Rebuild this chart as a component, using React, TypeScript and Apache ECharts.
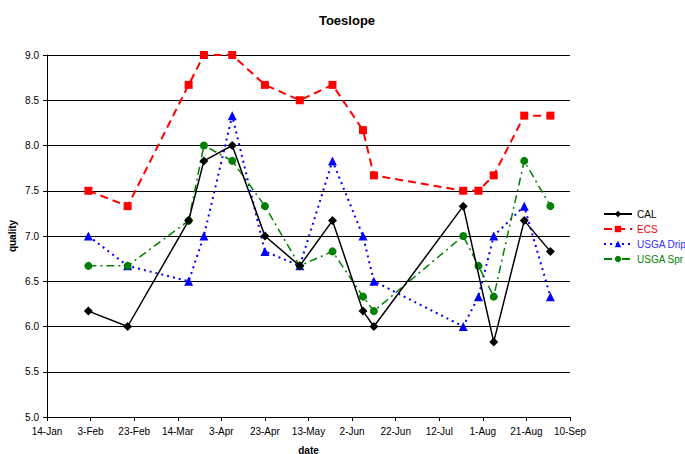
import React, { useEffect, useRef } from "react";
import * as echarts from "echarts";

// Sampling dates (2004 season) and mean quality ratings per treatment
const sampleDates = [
  "2004-02-02", "2004-02-20", "2004-03-19", "2004-03-26", "2004-04-08",
  "2004-04-23", "2004-05-09", "2004-05-24", "2004-06-07", "2004-06-12",
  "2004-07-23", "2004-07-30", "2004-08-06", "2004-08-20", "2004-09-01",
];
const calValues = [6.17, 6.0, 7.17, 7.83, 8.0, 7.0, 6.67, 7.17, 6.17, 6.0, 7.33, 5.83, 7.17, 6.83];
const calDates = [
  "2004-02-02", "2004-02-20", "2004-03-19", "2004-03-26", "2004-04-08",
  "2004-04-23", "2004-05-09", "2004-05-24", "2004-06-07", "2004-06-12",
  "2004-07-23", "2004-08-06", "2004-08-20", "2004-09-01",
];
const ecsValues = [7.5, 7.33, 8.67, 9.0, 9.0, 8.67, 8.5, 8.67, 8.17, 7.67, 7.5, 7.5, 7.67, 8.33, 8.33];
const dripValues = [7.0, 6.67, 6.5, 7.0, 8.33, 6.83, 6.67, 7.83, 7.0, 6.5, 6.0, 6.33, 7.0, 7.33, 6.33];
const sprValues = [6.67, 6.67, 7.17, 8.0, 7.83, 7.33, 6.67, 6.83, 6.33, 6.17, 7.0, 6.67, 6.33, 7.83, 7.33];

const axisStart = "2004-01-14";
const axisDays = 240;
const tickStep = 20;
const monthNames = ["Jan", "Feb", "Mar", "Apr", "May", "Jun", "Jul", "Aug", "Sep", "Oct", "Nov", "Dec"];

const DAY = 86400000;
const startMs = Date.parse(axisStart + "T00:00:00Z");
const toDay = (d: string) => Math.round((Date.parse(d + "T00:00:00Z") - startMs) / DAY);
const dayLabel = (v: number) => {
  const dt = new Date(startMs + v * DAY);
  return dt.getUTCDate() + "-" + monthNames[dt.getUTCMonth()];
};
const pairs = (dates: string[], vals: number[]) => vals.map((v, i) => [toDay(dates[i]), v]);

const FONT = "'Liberation Sans', Arial, sans-serif";

export default function App() {
  const ref = useRef<HTMLDivElement>(null);
  useEffect(() => {
    if (!ref.current) return;
    document.body.style.margin = "0";
    const chart = echarts.init(ref.current, undefined, { renderer: "svg" });
    chart.setOption({
      animation: false,
      backgroundColor: "#ffffff",
      textStyle: { fontFamily: FONT },
      title: {
        text: "Toeslope",
        left: 342,
        top: 9,
        textAlign: "center",
        textStyle: { fontSize: 13, fontWeight: "bold", color: "#000", fontFamily: FONT },
      },
      legend: {
        orient: "vertical",
        left: 598,
        top: 204,
        width: 90,
        itemWidth: 28,
        itemHeight: 8,
        itemGap: 5,
        textStyle: { fontSize: 10, fontFamily: FONT, overflow: "none" },
        data: [
          { name: "CAL", textStyle: { color: "#000000" } },
          { name: "ECS", textStyle: { color: "#ff0000" } },
          { name: "USGA Drip", textStyle: { color: "#3333ff" } },
          { name: "USGA Spr", textStyle: { color: "#008000" } },
        ],
      },
      grid: { left: 47, right: 115, top: 55, bottom: 37, containLabel: false, outerBoundsMode: "none" },
      xAxis: {
        type: "value",
        min: 0,
        max: axisDays,
        interval: tickStep,
        name: "date",
        nameLocation: "middle",
        nameGap: 28,
        nameMoveOverlap: false,
        nameTextStyle: { fontSize: 10, fontWeight: "bold", color: "#000", fontFamily: FONT },
        axisLine: { lineStyle: { color: "#000", width: 1 } },
        axisTick: { show: true, length: 4, lineStyle: { color: "#000" } },
        axisLabel: { fontSize: 10, color: "#000", margin: 9, formatter: (v: number) => dayLabel(v), fontFamily: FONT },
        splitLine: { show: false },
      },
      yAxis: {
        type: "value",
        min: 5,
        max: 9,
        interval: 0.5,
        name: "quality",
        nameLocation: "middle",
        nameGap: 30,
        nameMoveOverlap: false,
        nameRotate: 90,
        nameTextStyle: { fontSize: 10, fontWeight: "bold", color: "#000", fontFamily: FONT },
        axisLine: { show: true, lineStyle: { color: "#000", width: 1 } },
        axisTick: { show: true, length: 4, lineStyle: { color: "#000" } },
        axisLabel: { fontSize: 10, color: "#000", margin: 8, formatter: (v: number) => v.toFixed(1), fontFamily: FONT },
        splitLine: { show: true, lineStyle: { color: "#000", width: 1 } },
      },
      series: [
        {
          name: "CAL",
          type: "line",
          data: pairs(calDates, calValues),
          symbol: "diamond",
          symbolSize: 9,
          itemStyle: { color: "#000000" },
          lineStyle: { color: "#000000", width: 1.5 },
          z: 5,
        },
        {
          name: "ECS",
          type: "line",
          data: pairs(sampleDates, ecsValues),
          symbol: "rect",
          symbolSize: 8,
          itemStyle: { color: "#ff0000" },
          lineStyle: { color: "#ff0000", width: 2, type: [8, 5] },
          z: 2,
        },
        {
          name: "USGA Drip",
          type: "line",
          data: pairs(sampleDates, dripValues),
          symbol: "triangle",
          symbolSize: 9,
          itemStyle: { color: "#0000ff" },
          lineStyle: { color: "#0000ff", width: 2, type: [2, 4] },
          z: 3,
        },
        {
          name: "USGA Spr",
          type: "line",
          data: pairs(sampleDates, sprValues),
          symbol: "circle",
          symbolSize: 8,
          itemStyle: { color: "#008000" },
          lineStyle: { color: "#008000", width: 1.5, type: [8, 4, 2, 4] },
          z: 4,
        },
      ],
    });
    return () => chart.dispose();
  }, []);
  return <div ref={ref} style={{ width: 685, height: 454 }} />;
}
